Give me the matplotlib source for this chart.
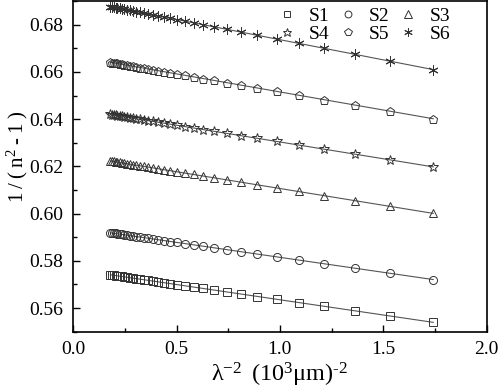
import matplotlib
matplotlib.use("Agg")
import matplotlib.pyplot as plt
import numpy as np

plt.rcParams['font.family'] = ['Liberation Serif', 'DejaVu Serif']
plt.rcParams['mathtext.fontset'] = 'custom'
plt.rcParams['mathtext.rm'] = 'Liberation Serif'
plt.rcParams['mathtext.it'] = 'Liberation Serif:italic'

x = [0.180, 0.187, 0.196, 0.205, 0.214, 0.225, 0.236, 0.248, 0.260, 0.274, 0.289,
     0.305, 0.323, 0.342, 0.363, 0.386, 0.411, 0.439, 0.469, 0.503, 0.541, 0.583,
     0.630, 0.683, 0.743, 0.812, 0.890, 0.984, 1.092, 1.214, 1.363, 1.532, 1.742]

S1 = [0.5741, 0.5740, 0.5739, 0.5738, 0.5737, 0.5735, 0.5734, 0.5732, 0.5731, 0.5729, 0.5727,
      0.5725, 0.5723, 0.5720, 0.5717, 0.5714, 0.5711, 0.5708, 0.5704, 0.5699, 0.5694, 0.5689,
      0.5683, 0.5676, 0.5668, 0.5660, 0.5649, 0.5637, 0.5623, 0.5608, 0.5588, 0.5567, 0.5540]
S2 = [0.5919, 0.5918, 0.5917, 0.5916, 0.5915, 0.5913, 0.5912, 0.5910, 0.5909, 0.5907, 0.5905,
      0.5903, 0.5901, 0.5898, 0.5896, 0.5893, 0.5890, 0.5886, 0.5882, 0.5878, 0.5873, 0.5868,
      0.5862, 0.5855, 0.5848, 0.5839, 0.5829, 0.5817, 0.5803, 0.5788, 0.5769, 0.5747, 0.5721]
S3 = [0.6223, 0.6222, 0.6221, 0.6219, 0.6218, 0.6217, 0.6215, 0.6213, 0.6212, 0.6210, 0.6208,
      0.6205, 0.6203, 0.6200, 0.6197, 0.6194, 0.6190, 0.6186, 0.6182, 0.6177, 0.6172, 0.6166,
      0.6159, 0.6152, 0.6143, 0.6133, 0.6122, 0.6109, 0.6094, 0.6076, 0.6055, 0.6031, 0.6001]
S4 = [0.6420, 0.6419, 0.6418, 0.6416, 0.6415, 0.6414, 0.6412, 0.6410, 0.6409, 0.6407, 0.6405,
      0.6402, 0.6400, 0.6397, 0.6394, 0.6391, 0.6387, 0.6383, 0.6379, 0.6374, 0.6369, 0.6363,
      0.6356, 0.6349, 0.6340, 0.6330, 0.6319, 0.6306, 0.6291, 0.6273, 0.6252, 0.6228, 0.6198]
S5 = [0.6641, 0.6640, 0.6639, 0.6637, 0.6636, 0.6634, 0.6632, 0.6631, 0.6629, 0.6627, 0.6624,
      0.6622, 0.6619, 0.6616, 0.6613, 0.6610, 0.6606, 0.6601, 0.6597, 0.6592, 0.6586, 0.6579,
      0.6572, 0.6564, 0.6555, 0.6544, 0.6532, 0.6518, 0.6502, 0.6483, 0.6460, 0.6434, 0.6402]
S6 = [0.6877, 0.6876, 0.6874, 0.6873, 0.6871, 0.6869, 0.6867, 0.6865, 0.6863, 0.6861, 0.6858,
      0.6856, 0.6853, 0.6849, 0.6846, 0.6842, 0.6838, 0.6833, 0.6828, 0.6822, 0.6815, 0.6808,
      0.6800, 0.6791, 0.6781, 0.6769, 0.6756, 0.6740, 0.6721, 0.6700, 0.6675, 0.6646, 0.6610]

labels = ['S1', 'S2', 'S3', 'S4', 'S5', 'S6']
series = [S1, S2, S3, S4, S5, S6]
markers = ['s', 'o', '^', '*', 'p', (6, 2, 0)]
msizes = [5.4, 5.8, 6.4, 7.4, 6.4, 7.2]

fig = plt.figure(figsize=(4.98, 3.90), dpi=100)
ax = fig.add_axes([0.147, 0.1495, 0.830, 0.8475])

xa = np.array(x)
handles = []
for ys, lab, m, ms in zip(series, labels, markers, msizes):
    ya = np.array(ys)
    p = np.polyfit(xa, ya, 1)
    xl = np.array([xa.min(), xa.max()])
    ax.plot(xl, np.polyval(p, xl), color='#555555', lw=0.8, zorder=1)
    h, = ax.plot(xa, ya, linestyle='none', marker=m, markersize=ms,
                 markerfacecolor='none', markeredgecolor='#333333',
                 markeredgewidth=0.7, label=lab, zorder=2)
    handles.append(h)

ax.set_xlim(0.0, 2.0)
ax.set_ylim(0.55, 0.69)
ax.set_xticks([0.0, 0.5, 1.0, 1.5, 2.0])
ax.set_xticks([0.25, 0.75, 1.25, 1.75], minor=True)
ax.set_yticks([0.56, 0.58, 0.60, 0.62, 0.64, 0.66, 0.68])
ax.set_yticks([0.55, 0.57, 0.59, 0.61, 0.63, 0.65, 0.67, 0.69], minor=True)
ax.set_xticklabels(['0.0', '0.5', '1.0', '1.5', '2.0'])
ax.set_yticklabels(['0.56', '0.58', '0.60', '0.62', '0.64', '0.66', '0.68'])
ax.tick_params(which='both', direction='in', labelsize=14, width=1.0)
ax.tick_params(which='major', length=5)
ax.tick_params(which='minor', length=3)
ax.tick_params(axis='x', which='major', pad=7)
ax.tick_params(axis='y', which='major', pad=7)
for s in ax.spines.values():
    s.set_linewidth(1.2)

ax.set_xlabel(r'$\mathrm{\lambda^{-2}\;\;(10^{3}\mu m)^{\text{-}2}}$', fontsize=17.5, labelpad=2)
ax.set_ylabel(r'$\mathrm{1\;/\;(\;n^{2}\;\text{-}\;1\;)}$', fontsize=15)
ax.yaxis.set_label_coords(-0.105, 0.53)

# legend order row-wise: S1 S2 S3 / S4 S5 S6 with ncol=3 (column-major fill)
order = [0, 3, 1, 4, 2, 5]
ax.legend([handles[i] for i in order], [labels[i] for i in order], ncol=3,
          loc='upper right', frameon=False, fontsize=14, handlelength=1.2,
          handletextpad=0.5, columnspacing=0.35, labelspacing=0.05,
          markerscale=0.85, bbox_to_anchor=(0.955, 1.035))

fig.savefig('out.png', dpi=100)
